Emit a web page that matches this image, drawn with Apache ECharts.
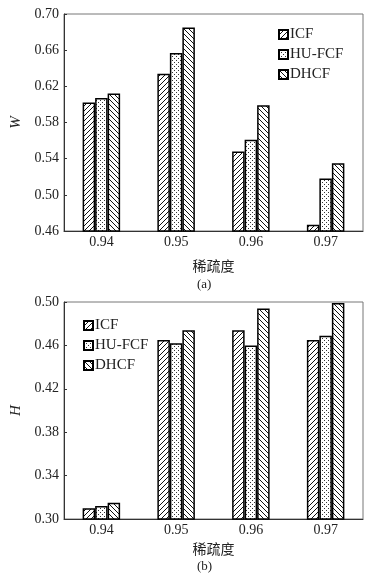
<!DOCTYPE html>
<html>
<head>
<meta charset="utf-8">
<script src="https://cdn.jsdelivr.net/npm/echarts@6/dist/echarts.min.js"></script>
<style>
html,body{margin:0;padding:0;background:#fff;}
#c{width:385px;height:583px;}
</style>
</head>
<body>
<div id="c"></div>
<script>
var categories = ['0.94', '0.95', '0.96', '0.97'];
var seriesNames = ['ICF', 'HU-FCF', 'DHCF'];
// chart (a): W
var wICF   = [0.602, 0.634, 0.548, 0.467];
var wHUFCF = [0.607, 0.657, 0.561, 0.518];
var wDHCF  = [0.612, 0.685, 0.599, 0.535];
var wTicks = [0.46, 0.50, 0.54, 0.58, 0.62, 0.66, 0.70];
// chart (b): H
var hICF   = [0.310, 0.465, 0.474, 0.465];
var hHUFCF = [0.312, 0.462, 0.460, 0.469];
var hDHCF  = [0.315, 0.474, 0.494, 0.499];
var hTicks = [0.30, 0.34, 0.38, 0.42, 0.46, 0.50];

function makeTile(kind) {
  var n = kind === 'dot' ? 4 : 5;
  var cv = document.createElement('canvas');
  cv.width = n; cv.height = n;
  var ctx = cv.getContext('2d');
  ctx.fillStyle = '#fff';
  ctx.fillRect(0, 0, n, n);
  ctx.fillStyle = kind === 'dot' ? '#333' : '#111';
  for (var i = 0; i < n; i++) {
    if (kind === 'fwd') ctx.fillRect(i, n - 1 - i, 1, 1);
    else if (kind === 'back') ctx.fillRect(i, i, 1, 1);
  }
  if (kind === 'dot') { ctx.fillRect(0, 0, 1, 1); ctx.fillRect(2, 2, 1, 1); }
  return {image: cv, repeat: 'repeat'};
}
var fills = [makeTile('fwd'), makeTile('dot'), makeTile('back')];

var serif = '"Liberation Serif", "DejaVu Serif", serif';
var cjk = '"Noto Sans CJK SC", sans-serif';

function yAxisFor(idx, ticks, name, nameGap) {
  return {
    type: 'value', gridIndex: idx,
    min: ticks[0], max: ticks[ticks.length - 1],
    name: name, nameLocation: 'middle', nameGap: nameGap,
    nameTextStyle: {fontFamily: serif, fontStyle: 'italic', fontSize: 15, color: '#222'},
    axisLine: {show: true, lineStyle: {color: '#333', width: 1}},
    axisTick: {show: true, inside: true, length: 3, lineStyle: {color: '#333'}, customValues: ticks},
    axisLabel: {fontFamily: serif, fontSize: 14, color: '#222', margin: 5, customValues: ticks,
      formatter: function (v) { return v.toFixed(2); }},
    splitLine: {show: false}
  };
}
function xAxisFor(idx, nameGap) {
  return {
    type: 'category', gridIndex: idx, data: categories,
    name: '稀疏度', nameLocation: 'middle', nameGap: nameGap,
    nameTextStyle: {fontFamily: cjk, fontSize: 14, color: '#222'},
    axisLine: {show: true, lineStyle: {color: '#333', width: 1}},
    axisTick: {show: false},
    axisLabel: {fontFamily: serif, fontSize: 14, color: '#222', margin: 4}
  };
}
function barSeries(idx, name, data, k) {
  return {
    type: 'bar', name: name, xAxisIndex: idx, yAxisIndex: idx,
    data: data, barWidth: 12.5, barGap: '0%',
    itemStyle: {color: fills[k], borderColor: '#000', borderWidth: 1.5},
    emphasis: {disabled: true}
  };
}
function legendFor(left, top) {
  return {orient: 'vertical', left: left, top: top, padding: 0, icon: 'rect',
    itemWidth: 9, itemHeight: 9, itemGap: 5,
    data: seriesNames, selectedMode: false,
    textStyle: {fontFamily: serif, fontSize: 15, color: '#222', padding: [0, 0, 0, -3]}};
}

var chart = echarts.init(document.getElementById('c'), null, {renderer: 'canvas'});
chart.setOption({
  animation: false,
  backgroundColor: '#fff',
  grid: [
    {left: 64, right: 22, top: 14, height: 217, show: true, borderColor: '#777', borderWidth: 1},
    {left: 64, right: 22, top: 302, height: 217, show: true, borderColor: '#777', borderWidth: 1}
  ],
  xAxis: [xAxisFor(0, 28), xAxisFor(1, 23)],
  yAxis: [yAxisFor(0, wTicks, 'W', 36), yAxisFor(1, hTicks, 'H', 40)],
  legend: [legendFor(278, 27), legendFor(83, 318)],
  graphic: [
    {type: 'text', left: 197, top: 278, style: {text: '(a)', font: '13px ' + serif, fill: '#222'}},
    {type: 'text', left: 197, top: 560, style: {text: '(b)', font: '13px ' + serif, fill: '#222'}}
  ],
  series: [
    barSeries(0, 'ICF', wICF, 0),
    barSeries(0, 'HU-FCF', wHUFCF, 1),
    barSeries(0, 'DHCF', wDHCF, 2),
    barSeries(1, 'ICF', hICF, 0),
    barSeries(1, 'HU-FCF', hHUFCF, 1),
    barSeries(1, 'DHCF', hDHCF, 2)
  ]
});
</script>
</body>
</html>
